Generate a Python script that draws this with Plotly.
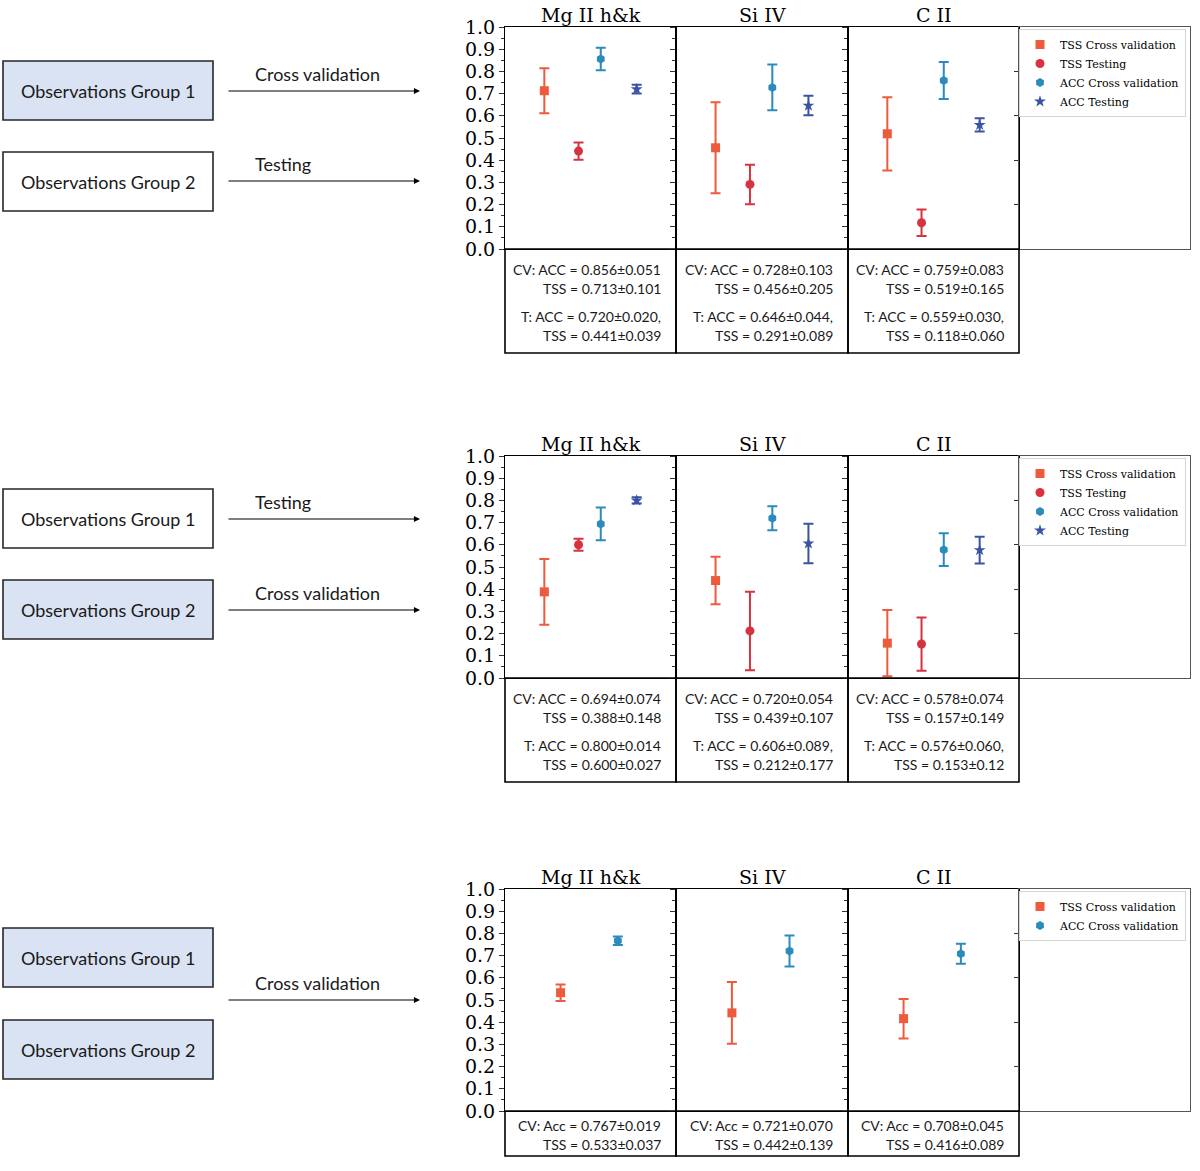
import plotly.graph_objects as go

W, H = 1200, 1171

LINES = ["Mg II h&k", "Si IV", "C II"]

# block 1: group 1 -> cross validation, group 2 -> testing
B1_ACC_CV = [0.856, 0.728, 0.759]
B1_ACC_CV_STD = ["0.051", "0.103", "0.083"]
B1_TSS_CV = [0.713, 0.456, 0.519]
B1_TSS_CV_STD = ["0.101", "0.205", "0.165"]
B1_ACC_T = [0.720, 0.646, 0.559]
B1_ACC_T_STD = ["0.020", "0.044", "0.030"]
B1_TSS_T = [0.441, 0.291, 0.118]
B1_TSS_T_STD = ["0.039", "0.089", "0.060"]

# block 2: group 1 -> testing, group 2 -> cross validation
B2_ACC_CV = [0.694, 0.720, 0.578]
B2_ACC_CV_STD = ["0.074", "0.054", "0.074"]
B2_TSS_CV = [0.388, 0.439, 0.157]
B2_TSS_CV_STD = ["0.148", "0.107", "0.149"]
B2_ACC_T = [0.800, 0.606, 0.576]
B2_ACC_T_STD = ["0.014", "0.089", "0.060"]
B2_TSS_T = [0.600, 0.212, 0.153]
B2_TSS_T_STD = ["0.027", "0.177", "0.12"]

# block 3: both groups -> cross validation
B3_ACC_CV = [0.767, 0.721, 0.708]
B3_ACC_CV_STD = ["0.019", "0.070", "0.045"]
B3_TSS_CV = [0.533, 0.442, 0.416]
B3_TSS_CV_STD = ["0.037", "0.139", "0.089"]

Y_TICKS = [0.0, 0.1, 0.2, 0.3, 0.4, 0.5, 0.6, 0.7, 0.8, 0.9, 1.0]

STYLE = {
    "TSS Cross validation": dict(color="#ee5a3c", symbol="square", size=9),
    "TSS Testing": dict(color="#d7323f", symbol="circle", size=9),
    "ACC Cross validation": dict(color="#2b8bbd", symbol="hexagon", size=9),
    "ACC Testing": dict(color="#3a53a4", symbol="star", size=9),
}

SERIF = "DejaVu Serif"
SANS = "Lato"
BLUE_BOX = "#dae3f3"

COL_EDGES = [505, 676, 848, 1019, 1190]
PLOT_H = 222

BLOCKS = [
    dict(
        top=27,
        slots=[0.23, 0.43, 0.56, 0.77],
        series=[
            ("TSS Cross validation", B1_TSS_CV, B1_TSS_CV_STD),
            ("TSS Testing", B1_TSS_T, B1_TSS_T_STD),
            ("ACC Cross validation", B1_ACC_CV, B1_ACC_CV_STD),
            ("ACC Testing", B1_ACC_T, B1_ACC_T_STD),
        ],
        table_h=104,
        acc_word="ACC",
        cv=(B1_ACC_CV, B1_ACC_CV_STD, B1_TSS_CV, B1_TSS_CV_STD),
        t=(B1_ACC_T, B1_ACC_T_STD, B1_TSS_T, B1_TSS_T_STD),
        t_comma=[",", ",", ","],
        boxes=[("Observations Group 1", 61, BLUE_BOX), ("Observations Group 2", 152, "white")],
        arrows=[(91, "Cross validation"), (181, "Testing")],
    ),
    dict(
        top=456,
        slots=[0.23, 0.43, 0.56, 0.77],
        series=[
            ("TSS Cross validation", B2_TSS_CV, B2_TSS_CV_STD),
            ("TSS Testing", B2_TSS_T, B2_TSS_T_STD),
            ("ACC Cross validation", B2_ACC_CV, B2_ACC_CV_STD),
            ("ACC Testing", B2_ACC_T, B2_ACC_T_STD),
        ],
        table_h=104,
        acc_word="ACC",
        cv=(B2_ACC_CV, B2_ACC_CV_STD, B2_TSS_CV, B2_TSS_CV_STD),
        t=(B2_ACC_T, B2_ACC_T_STD, B2_TSS_T, B2_TSS_T_STD),
        t_comma=["", ",", ","],
        boxes=[("Observations Group 1", 489, "white"), ("Observations Group 2", 580, BLUE_BOX)],
        arrows=[(519, "Testing"), (610, "Cross validation")],
    ),
    dict(
        top=889,
        slots=[0.325, 0.66],
        series=[
            ("TSS Cross validation", B3_TSS_CV, B3_TSS_CV_STD),
            ("ACC Cross validation", B3_ACC_CV, B3_ACC_CV_STD),
        ],
        table_h=45,
        acc_word="Acc",
        cv=(B3_ACC_CV, B3_ACC_CV_STD, B3_TSS_CV, B3_TSS_CV_STD),
        t=None,
        t_comma=None,
        boxes=[("Observations Group 1", 928, BLUE_BOX), ("Observations Group 2", 1020, BLUE_BOX)],
        arrows=[(1000, "Cross validation")],
    ),
]


def fx(px):
    return px / W


def fy(py):
    return 1 - py / H


fig = go.Figure()
layout = dict(
    width=W,
    height=H,
    margin=dict(l=0, r=0, t=0, b=0, autoexpand=False),
    paper_bgcolor="white",
    plot_bgcolor="white",
    showlegend=True,
)
shapes = []
annotations = []

for b, block in enumerate(BLOCKS):
    top = block["top"]
    bottom = top + PLOT_H
    legend_name = "legend" if b == 0 else f"legend{b + 1}"

    for c in range(4):
        n = b * 4 + c + 1
        suffix = "" if n == 1 else str(n)
        x0, x1 = COL_EDGES[c], COL_EDGES[c + 1]
        is_legend_col = c == 3
        line_col = "#555555" if is_legend_col else "black"

        layout[f"xaxis{suffix}"] = dict(
            domain=[fx(x0), fx(x1)], anchor=f"y{suffix}", range=[0, 1],
            showticklabels=False, ticks="", showgrid=False, zeroline=False,
            showline=True, mirror=True, linecolor=line_col, linewidth=1.2,
        )
        yax = dict(
            domain=[fy(bottom), fy(top)], anchor=f"x{suffix}", range=[0, 1],
            showgrid=False, zeroline=False, showline=True, mirror=True,
            linecolor=line_col, linewidth=1.2, ticks="outside",
            tickcolor="#333333", tickwidth=1.2,
        )
        if is_legend_col:
            yax.update(tickvals=[0.2, 0.4, 0.6, 0.8], ticklen=4, showticklabels=False)
        else:
            yax.update(
                tickvals=Y_TICKS, ticklen=5, tickformat=".1f",
                showticklabels=(c == 0),
                tickfont=dict(family=SERIF, size=19, color="black"),
                minor=dict(dtick=0.05, ticks="outside", ticklen=3, tickcolor="#333333"),
            )
        layout[f"yaxis{suffix}"] = yax

        if is_legend_col:
            # empty axes that only frames the legend
            fig.add_trace(go.Scatter(
                x=[], y=[], xaxis=f"x{suffix}", yaxis=f"y{suffix}",
                showlegend=False, hoverinfo="skip",
            ))
            continue

        # panel title
        annotations.append(dict(
            text=LINES[c], x=fx((x0 + x1) / 2), y=fy(top - 12), xref="paper", yref="paper",
            xanchor="center", yanchor="middle", showarrow=False,
            font=dict(family=SERIF, size=19, color="black"),
        ))

        for (name, means, stds), slot in zip(block["series"], block["slots"]):
            st = STYLE[name]
            fig.add_trace(go.Scatter(
                x=[slot], y=[means[c]], mode="markers", name=name,
                marker=dict(symbol=st["symbol"], size=st["size"], color=st["color"]),
                error_y=dict(type="data", array=[float(stds[c])], color=st["color"],
                             thickness=2, width=5),
                xaxis=f"x{suffix}", yaxis=f"y{suffix}",
                legend=legend_name, showlegend=(c == 0),
            ))

        # table cell under the panel
        shapes.append(dict(
            type="rect", xref="paper", yref="paper",
            x0=fx(x0), x1=fx(x1), y0=fy(bottom + block["table_h"]), y1=fy(bottom),
            line=dict(color="black", width=1.6),
        ))
        acc, acc_s, tss, tss_s = block["cv"]
        lines = [
            (20, f"CV: {block['acc_word']} = {acc[c]:.3f}±{acc_s[c]}"),
            (39, f"TSS = {tss[c]:.3f}±{tss_s[c]}"),
        ]
        if block["t"]:
            acc, acc_s, tss, tss_s = block["t"]
            lines += [
                (67, f"T: {block['acc_word']} = {acc[c]:.3f}±{acc_s[c]}{block['t_comma'][c]}"),
                (86, f"TSS = {tss[c]:.3f}±{tss_s[c]}"),
            ]
        if block["table_h"] < 60:
            lines = [(14, lines[0][1]), (33, lines[1][1])]
        for dy, txt in lines:
            annotations.append(dict(
                text=txt, x=fx(x1 - 13), y=fy(bottom + dy), xref="paper", yref="paper",
                xanchor="right", yanchor="middle", showarrow=False,
                font=dict(family=SANS, size=14, color="#1a1a1a"),
            ))

    layout[legend_name] = dict(
        x=fx(1019), y=fy(top + 2), xref="paper", yref="paper",
        xanchor="left", yanchor="top", bgcolor="white",
        bordercolor="#d5d5d5", borderwidth=1, tracegroupgap=0,
        font=dict(family=SERIF, size=11, color="black"),
    )

    # left-hand diagram: observation group boxes and arrows
    for label, box_top, fill in block["boxes"]:
        shapes.append(dict(
            type="rect", xref="paper", yref="paper",
            x0=fx(3), x1=fx(213), y0=fy(box_top + 59), y1=fy(box_top),
            fillcolor=fill, line=dict(color="#262626", width=1.6), layer="below",
        ))
        annotations.append(dict(
            text=label, x=fx(108), y=fy(box_top + 30), xref="paper", yref="paper",
            xanchor="center", yanchor="middle", showarrow=False,
            font=dict(family=SANS, size=18, color="#1a1a1a"),
        ))
    for ay, label in block["arrows"]:
        annotations.append(dict(
            text="", x=fx(420), y=fy(ay), xref="paper", yref="paper",
            ax=-193, ay=0, axref="pixel", ayref="pixel",
            showarrow=True, arrowhead=2, arrowsize=1.1, arrowwidth=1.1, arrowcolor="black",
        ))
        annotations.append(dict(
            text=label, x=fx(253), y=fy(ay - 17), xref="paper", yref="paper",
            xanchor="left", yanchor="middle", showarrow=False,
            font=dict(family=SANS, size=18, color="#1a1a1a"),
        ))

layout["shapes"] = shapes
layout["annotations"] = annotations
fig.update_layout(**layout)

# the page body has a default 8px margin; drop it so the figure sits at the corner
fig.write_html(
    "out.html",
    config={"displayModeBar": False},
    post_script="document.body.style.margin = '0';",
)
